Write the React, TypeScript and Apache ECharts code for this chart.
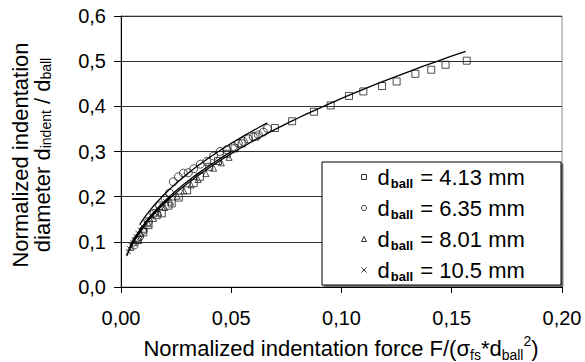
import React, { useEffect, useRef } from "react";
import * as echarts from "echarts";

const FONT = "'Liberation Sans', Arial, Helvetica, sans-serif";

// Legend labels (ball diameters)
const ballSizes = ["4.13 mm", "6.35 mm", "8.01 mm", "10.5 mm"];

// Measured points [normalized force, normalized diameter]
const ball413: [number, number][] = [
  [0.0078, 0.104], [0.0101, 0.121], [0.0125, 0.137], [0.0162, 0.159], [0.0185, 0.163],
  [0.0215, 0.18], [0.023, 0.185], [0.0262, 0.198], [0.03, 0.214], [0.033, 0.23],
  [0.0358, 0.244], [0.04, 0.266], [0.044, 0.279], [0.0479, 0.295], [0.0515, 0.307],
  [0.0547, 0.318], [0.061, 0.333], [0.0698, 0.352], [0.0776, 0.367], [0.0875, 0.388],
  [0.0951, 0.402], [0.1034, 0.423], [0.1099, 0.433], [0.1184, 0.445], [0.125, 0.455],
  [0.1335, 0.472], [0.1407, 0.481], [0.1472, 0.492], [0.1568, 0.501],
];
const ball635: [number, number][] = [
  [0.006, 0.093], [0.0071, 0.104], [0.0085, 0.112], [0.0101, 0.126], [0.0125, 0.145],
  [0.015, 0.163], [0.0175, 0.18], [0.02, 0.196], [0.022, 0.208], [0.0237, 0.233],
  [0.026, 0.244], [0.0283, 0.252], [0.0305, 0.253], [0.033, 0.262], [0.036, 0.272],
  [0.0389, 0.278], [0.042, 0.29], [0.0449, 0.3], [0.0479, 0.304], [0.0509, 0.311],
  [0.0532, 0.318], [0.0555, 0.322], [0.0577, 0.328], [0.06, 0.333], [0.0623, 0.337],
  [0.0646, 0.343], [0.0664, 0.351],
];
const ball801: [number, number][] = [
  [0.0045, 0.088], [0.0058, 0.098], [0.0072, 0.108], [0.0088, 0.118], [0.0105, 0.128],
  [0.0125, 0.14], [0.0148, 0.152], [0.0172, 0.164], [0.0198, 0.176], [0.0225, 0.188],
  [0.0255, 0.201], [0.0285, 0.213], [0.0318, 0.226], [0.035, 0.238], [0.0385, 0.251],
  [0.042, 0.263], [0.0455, 0.275], [0.049, 0.287],
];
const ball105: [number, number][] = [
  [0.0033, 0.078], [0.0039, 0.085], [0.0046, 0.092], [0.0053, 0.099], [0.006, 0.105],
  [0.0068, 0.112], [0.0077, 0.119], [0.0087, 0.126], [0.0098, 0.134], [0.011, 0.142],
  [0.0123, 0.149], [0.0137, 0.157], [0.0152, 0.165], [0.0168, 0.173], [0.0185, 0.181],
  [0.0203, 0.189],
];

// Power-law trend lines y = a * x^b
const fitA = [1.32, 1.3, 1.3, 1.34];
const fitB = [0.5, 0.47, 0.49, 0.5];
const fitStart = [0.0045, 0.0085, 0.004, 0.0026];
const fitEnd = [0.1563, 0.0664, 0.05, 0.022];

const markerSets = [ball413, ball635, ball801, ball105];
const CROSS = "path://M0,0L10,10M10,0L0,10";
const symbols = ["rect", "circle", "triangle", CROSS];
const symbolSizes = [7, 8, 6, 5];
const legendIcons = ["rect", "circle", "triangle", CROSS];

const MARK = "#222";

function App() {
  const ref = useRef<HTMLDivElement>(null);
  useEffect(() => {
    const chart = echarts.init(ref.current!, null, { renderer: "svg" });
    const series: any[] = [];
    markerSets.forEach((d, i) => {
      series.push({
        type: "scatter",
        name: ballSizes[i],
        data: d,
        symbol: symbols[i],
        symbolSize: symbolSizes[i],
        itemStyle: { color: "none", borderColor: MARK, borderWidth: 1 },
        z: 2,
        silent: true,
      });
    });
    fitA.forEach((a, i) => {
      const pts: [number, number][] = [];
      const n = 80;
      const x0 = fitStart[i];
      const x1 = fitEnd[i];
      for (let k = 0; k <= n; k++) {
        const x = x0 * Math.pow(x1 / x0, k / n);
        pts.push([x, a * Math.pow(x, fitB[i])]);
      }
      series.push({
        type: "line",
        name: "fit" + i,
        data: pts,
        showSymbol: false,
        symbol: "none",
        lineStyle: { color: "#000", width: 1.3 },
        z: 3,
        silent: true,
      });
    });

    chart.setOption({
      animation: false,
      grid: {
        left: 121,
        top: 16,
        width: 441,
        height: 271,
        show: true,
        borderColor: "#888",
        borderWidth: 1,
        backgroundColor: "transparent",
      },
      xAxis: {
        type: "value",
        min: 0,
        max: 0.2,
        interval: 0.05,
        axisLine: { show: true, onZero: false, lineStyle: { color: "#000", width: 1 } },
        axisTick: { show: true, inside: false, length: 6, lineStyle: { color: "#000" } },
        axisLabel: {
          formatter: (v: number) => v.toFixed(2).replace(".", ","),
          fontSize: 20,
          color: "#000",
          fontFamily: FONT,
          margin: 21,
        },
        splitLine: { show: false },
      },
      yAxis: {
        type: "value",
        min: 0,
        max: 0.6,
        interval: 0.1,
        axisLine: { show: true, lineStyle: { color: "#000", width: 1 } },
        axisTick: { show: true, inside: false, length: 7, lineStyle: { color: "#000" } },
        axisLabel: {
          formatter: (v: number) => v.toFixed(1).replace(".", ","),
          fontSize: 20,
          color: "#000",
          fontFamily: FONT,
          margin: 15,
        },
        splitLine: { show: true, lineStyle: { color: "#333", width: 1 } },
      },
      legend: {
        orient: "vertical",
        left: 359,
        top: 166,
        itemWidth: 5,
        itemHeight: 5,
        itemGap: 7,
        padding: 0,
        selectedMode: false,
        z: 10,
        data: ballSizes.map((n, i) => ({
          name: n,
          icon: legendIcons[i],
          itemStyle: { color: "none", borderColor: "#000", borderWidth: 1 },
        })),
        formatter: (n: string) => `{d|d}{s|ball}{t| = ${n}}`,
        textStyle: {
          color: "#000",
          fontFamily: FONT,
          rich: {
            d: { fontSize: 22, lineHeight: 26, fontFamily: FONT, color: "#000", padding: [0, 0, 0, 6] },
            s: {
              fontSize: 13,
              fontWeight: "bold",
              lineHeight: 12,
              verticalAlign: "bottom",
              fontFamily: FONT,
              color: "#000",
              padding: [0, 1, 0, 1],
            },
            t: { fontSize: 22, lineHeight: 26, fontFamily: FONT, color: "#000" },
          },
        },
      },
      graphic: [
        {
          type: "rect",
          z: 5,
          shape: { x: 322, y: 162, width: 239, height: 123 },
          style: {
            fill: "#fff",
            stroke: "#000",
            lineWidth: 1,
            shadowColor: "rgba(0,0,0,0.45)",
            shadowOffsetX: 2,
            shadowOffsetY: 2,
            shadowBlur: 0,
          },
        },
        {
          type: "text",
          z: 5,
          x: 341,
          y: 348,
          style: {
            text: "{t|Normalized indentation force F/(σ}{s|fs}{t|*d}{s|ball}{p|2}{t|)}",
            align: "center",
            verticalAlign: "middle",
            fill: "#000",
            rich: {
              t: { fontSize: 22, lineHeight: 28, fontFamily: FONT, fill: "#000" },
              s: { fontSize: 14, lineHeight: 12, verticalAlign: "bottom", fontFamily: FONT, fill: "#000" },
              p: { fontSize: 14, lineHeight: 12, verticalAlign: "top", fontFamily: FONT, fill: "#000" },
            },
          },
        },
        {
          type: "text",
          z: 5,
          x: 31,
          y: 155,
          rotation: Math.PI / 2,
          style: {
            text: "{t|Normalized indentation}\n{t|diameter d}{s|indent}{t| / d}{s|ball}",
            align: "center",
            verticalAlign: "middle",
            fill: "#000",
            rich: {
              t: { fontSize: 22, lineHeight: 22, fontFamily: FONT, fill: "#000" },
              s: { fontSize: 14, lineHeight: 8, verticalAlign: "bottom", fontFamily: FONT, fill: "#000" },
            },
          },
        },
      ],
      series,
    });
    return () => chart.dispose();
  }, []);
  return (
    <div
      ref={ref}
      style={{ position: "fixed", left: 0, top: 0, width: 585, height: 362, background: "#fff" }}
    />
  );
}

export default App;
